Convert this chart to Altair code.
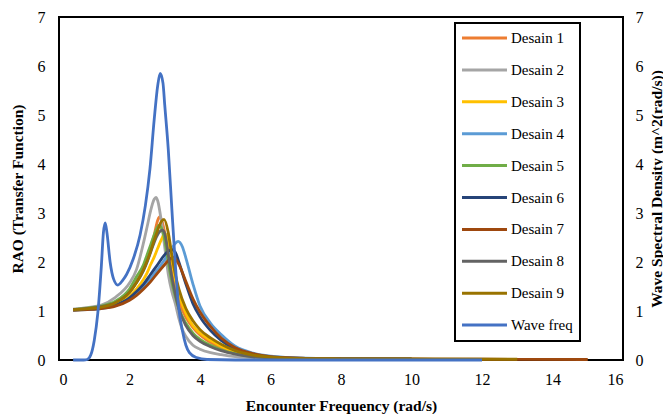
import altair as alt
import pandas as pd

series_names = ["Desain 1", "Desain 2", "Desain 3", "Desain 4", "Desain 5",
                "Desain 6", "Desain 7", "Desain 8", "Desain 9", "Wave freq"]
series_colors = ["#ED7D31", "#A5A5A5", "#FFC000", "#5B9BD5", "#70AD47",
                 "#264478", "#9E480E", "#636363", "#997300", "#4472C4"]

d1_x = [0.4, 0.8, 1.2, 1.6, 2.0, 2.2, 2.4, 2.5, 2.6, 2.7, 2.8, 2.85, 2.9, 3.0, 3.1, 3.2, 3.3, 3.4, 3.6, 3.8, 4.0, 4.3, 4.6, 5.0, 5.5, 6.0, 7.0, 8.0, 10.0]
d1_y = [1.03, 1.05, 1.09, 1.18, 1.4, 1.6, 1.88, 2.08, 2.3, 2.55, 2.85, 2.92, 2.88, 2.6, 2.2, 1.8, 1.45, 1.2, 0.87, 0.66, 0.51, 0.36, 0.25, 0.15, 0.08, 0.05, 0.03, 0.02, 0.015]

d2_x = [0.4, 0.8, 1.2, 1.6, 2.0, 2.2, 2.4, 2.5, 2.6, 2.7, 2.75, 2.8, 2.9, 3.0, 3.1, 3.2, 3.3, 3.4, 3.5, 3.6, 3.8, 4.0, 4.3, 4.6, 5.0, 5.5, 6.0, 7.0, 8.0, 10.0]
d2_y = [1.04, 1.07, 1.12, 1.28, 1.57, 1.85, 2.4, 2.72, 3.05, 3.28, 3.32, 3.25, 2.85, 2.3, 1.75, 1.4, 1.15, 0.85, 0.62, 0.48, 0.3, 0.22, 0.15, 0.11, 0.07, 0.05, 0.035, 0.025, 0.02, 0.015]

d3_x = [0.4, 0.8, 1.2, 1.6, 2.0, 2.2, 2.4, 2.5, 2.6, 2.7, 2.8, 2.9, 3.0, 3.1, 3.2, 3.3, 3.4, 3.6, 3.8, 4.0, 4.3, 4.6, 5.0, 5.5, 6.0, 7.0, 8.0, 10.0]
d3_y = [1.02, 1.04, 1.07, 1.13, 1.3, 1.45, 1.65, 1.78, 1.95, 2.1, 2.28, 2.45, 2.58, 2.45, 2.05, 1.65, 1.35, 0.95, 0.7, 0.55, 0.4, 0.28, 0.17, 0.09, 0.05, 0.03, 0.02, 0.015]

d4_x = [0.4, 0.8, 1.2, 1.6, 2.0, 2.2, 2.4, 2.6, 2.8, 3.0, 3.2, 3.3, 3.38, 3.5, 3.6, 3.8, 4.0, 4.3, 4.6, 5.0, 5.5, 6.0, 7.0, 8.0, 10.0]
d4_y = [1.02, 1.03, 1.05, 1.11, 1.25, 1.36, 1.5, 1.66, 1.85, 2.05, 2.28, 2.38, 2.42, 2.31, 2.08, 1.55, 1.1, 0.75, 0.52, 0.28, 0.14, 0.08, 0.04, 0.03, 0.02]

d5_x = [0.4, 0.8, 1.2, 1.6, 2.0, 2.2, 2.4, 2.5, 2.6, 2.7, 2.8, 2.85, 2.9, 3.0, 3.1, 3.2, 3.3, 3.4, 3.6, 3.8, 4.0, 4.3, 4.6, 5.0, 5.5, 6.0, 7.0, 8.0, 10.0]
d5_y = [1.03, 1.06, 1.1, 1.2, 1.45, 1.7, 1.95, 2.15, 2.35, 2.55, 2.72, 2.75, 2.7, 2.45, 2.0, 1.6, 1.3, 1.05, 0.75, 0.55, 0.42, 0.3, 0.21, 0.13, 0.07, 0.045, 0.03, 0.02, 0.015]

d6_x = [0.4, 0.8, 1.2, 1.6, 2.0, 2.2, 2.4, 2.6, 2.8, 3.0, 3.1, 3.2, 3.3, 3.4, 3.6, 3.8, 4.0, 4.3, 4.6, 5.0, 5.5, 6.0, 7.0, 8.0, 10.0]
d6_y = [1.02, 1.04, 1.06, 1.12, 1.27, 1.4, 1.55, 1.75, 1.95, 2.15, 2.22, 2.25, 2.2, 2.0, 1.55, 1.15, 0.88, 0.6, 0.4, 0.22, 0.11, 0.06, 0.03, 0.02, 0.015]

d7_x = [0.4, 0.8, 1.2, 1.6, 2.0, 2.2, 2.4, 2.6, 2.8, 3.0, 3.1, 3.25, 3.4, 3.6, 3.8, 4.0, 4.3, 4.6, 5.0, 5.5, 6.0, 7.0, 8.0, 10.0, 12.0, 15.0]
d7_y = [1.02, 1.03, 1.05, 1.1, 1.22, 1.32, 1.45, 1.6, 1.78, 1.95, 2.03, 2.1, 1.95, 1.6, 1.25, 0.98, 0.68, 0.45, 0.25, 0.13, 0.07, 0.035, 0.025, 0.02, 0.015, 0.01]

d8_x = [0.4, 0.8, 1.2, 1.6, 2.0, 2.2, 2.4, 2.5, 2.6, 2.7, 2.8, 2.93, 3.0, 3.1, 3.2, 3.3, 3.4, 3.6, 3.8, 4.0, 4.3, 4.6, 5.0, 5.5, 6.0, 7.0, 8.0, 10.0]
d8_y = [1.03, 1.05, 1.09, 1.17, 1.38, 1.58, 1.83, 2.0, 2.2, 2.4, 2.56, 2.65, 2.58, 2.15, 1.7, 1.35, 1.05, 0.7, 0.5, 0.38, 0.27, 0.19, 0.12, 0.065, 0.04, 0.025, 0.02, 0.015]

d9_x = [0.4, 0.8, 1.2, 1.6, 2.0, 2.2, 2.4, 2.5, 2.6, 2.7, 2.8, 2.9, 2.98, 3.1, 3.2, 3.3, 3.4, 3.6, 3.8, 4.0, 4.3, 4.6, 5.0, 5.5, 6.0, 7.0, 8.0, 10.0, 13.0]
d9_y = [1.03, 1.05, 1.08, 1.17, 1.38, 1.58, 1.85, 2.02, 2.22, 2.45, 2.65, 2.82, 2.87, 2.6, 2.15, 1.75, 1.45, 1.05, 0.8, 0.62, 0.45, 0.32, 0.19, 0.1, 0.06, 0.03, 0.025, 0.02, 0.015]

wave_x = [0.4, 0.7, 0.8, 0.9, 1.0, 1.1, 1.2, 1.26, 1.31, 1.36, 1.45, 1.55, 1.67, 1.8, 1.92, 2.1, 2.3, 2.45, 2.58, 2.7, 2.8, 2.87, 2.95, 3.0, 3.1, 3.2, 3.3, 3.4, 3.5, 3.6, 3.7, 3.9, 4.2, 5.0, 12.0]
wave_y = [0.0, 0.0, 0.01, 0.1, 0.4, 0.95, 1.9, 2.6, 2.8, 2.6, 2.0, 1.65, 1.53, 1.62, 1.75, 2.05, 2.55, 3.15, 3.9, 4.9, 5.6, 5.85, 5.65, 5.2, 4.3, 3.1, 1.95, 1.05, 0.6, 0.3, 0.15, 0.05, 0.01, 0.0, 0.0]

x_ticks = [0, 2, 4, 6, 8, 10, 12, 14, 16]
y_ticks = [0, 1, 2, 3, 4, 5, 6, 7]

design_series = [(d1_x, d1_y), (d2_x, d2_y), (d3_x, d3_y), (d4_x, d4_y), (d5_x, d5_y),
                 (d6_x, d6_y), (d7_x, d7_y), (d8_x, d8_y), (d9_x, d9_y)]

rows = []
for i, (xs, ys) in enumerate(design_series):
    for j, (xv, yv) in enumerate(zip(xs, ys)):
        rows.append({"series": series_names[i], "x": xv, "y": yv, "k": i * 100 + j})
design_df = pd.DataFrame(rows)
wave_df = pd.DataFrame({"series": "Wave freq", "x": wave_x, "y": wave_y,
                        "k": list(range(len(wave_x)))})

FONT = "Liberation Serif"

color = alt.Color("series:N",
                  scale=alt.Scale(domain=series_names, range=series_colors),
                  legend=alt.Legend(title=None))

xenc = alt.X("x:Q", scale=alt.Scale(domain=[0, 16], nice=False),
             axis=alt.Axis(values=x_ticks, title="Encounter Frequency (rad/s)",
                           labelPadding=11, titlePadding=11))

designs = alt.Chart(design_df).mark_line(strokeWidth=2.8, interpolate="monotone").encode(
    x=xenc,
    y=alt.Y("y:Q", scale=alt.Scale(domain=[0, 7], nice=False),
            axis=alt.Axis(values=y_ticks, title="RAO (Transfer Function)",
                          labelPadding=14, titlePadding=12)),
    color=color,
    order="k:Q",
)

wave = alt.Chart(wave_df).mark_line(strokeWidth=2.8, interpolate="monotone").encode(
    x=xenc,
    y=alt.Y("y:Q", scale=alt.Scale(domain=[0, 7], nice=False),
            axis=alt.Axis(values=y_ticks, orient="right",
                          title="Wave Spectral Density (m^2(rad/s))",
                          titleAngle=270, titleBaseline="top",
                          labelPadding=12, titlePadding=6)),
    color=color,
    order="k:Q",
)

chart = alt.layer(designs, wave).resolve_scale(y="independent").properties(
    width=564, height=343,
    autosize=alt.AutoSizeParams(type="none"),
    padding={"left": 59, "top": 17, "right": 40, "bottom": 54},
).configure_view(
    stroke="black", strokeWidth=2
).configure_axis(
    grid=False, ticks=False, domain=False,
    labelFont=FONT, labelFontSize=16, labelColor="black",
    titleFont=FONT, titleFontSize=15.5, titleFontWeight="bold", titleColor="black",
).configure_legend(
    orient="none", legendX=396, legendY=6,
    strokeColor="black", strokeWidth=2, fillColor="white",
    padding=7, rowPadding=15.9,
    symbolType="M-3.46,0L3.46,0", symbolSize=169, symbolStrokeWidth=3,
    symbolOffset=14.5, labelOffset=18.5,
    labelFont=FONT, labelFontSize=15, labelColor="black",
)

chart.save("out.html", embed_options={"renderer": "svg", "actions": False})
